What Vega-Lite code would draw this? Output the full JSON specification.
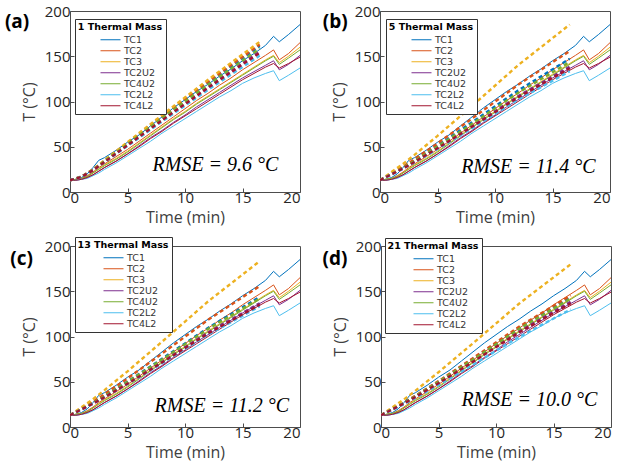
{
"$schema":"https://vega.github.io/schema/vega-lite/v6.json",
"background":"white",
"padding":{"left":4,"top":3,"right":0,"bottom":0},
"datasets":{
"measured":[
{"t":0,"TC1":13,"TC2":13,"TC3":13,"TC2U2":13,"TC4U2":13,"TC2L2":13,"TC4L2":13},
{"t":0.5,"TC1":14,"TC2":14,"TC3":14,"TC2U2":13,"TC4U2":14,"TC2L2":13,"TC4L2":13},
{"t":1,"TC1":16,"TC2":15,"TC3":15,"TC2U2":14,"TC4U2":15,"TC2L2":14,"TC4L2":14},
{"t":1.5,"TC1":20,"TC2":18,"TC3":17,"TC2U2":16,"TC4U2":17,"TC2L2":15,"TC4L2":16},
{"t":2,"TC1":27,"TC2":22,"TC3":21,"TC2U2":19,"TC4U2":21,"TC2L2":18,"TC4L2":19},
{"t":2.5,"TC1":35,"TC2":27,"TC3":26,"TC2U2":23,"TC4U2":25,"TC2L2":21,"TC4L2":23},
{"t":3,"TC1":38,"TC2":31,"TC3":30,"TC2U2":27,"TC4U2":29,"TC2L2":25,"TC4L2":27},
{"t":4,"TC1":46,"TC2":39,"TC3":37,"TC2U2":34,"TC4U2":36,"TC2L2":32,"TC4L2":34},
{"t":5,"TC1":55,"TC2":47,"TC3":45,"TC2U2":42,"TC4U2":44,"TC2L2":40,"TC4L2":42},
{"t":6,"TC1":63,"TC2":56,"TC3":54,"TC2U2":51,"TC4U2":53,"TC2L2":48,"TC4L2":50},
{"t":7,"TC1":73,"TC2":65,"TC3":63,"TC2U2":60,"TC4U2":62,"TC2L2":56,"TC4L2":59},
{"t":8,"TC1":83,"TC2":74,"TC3":72,"TC2U2":68,"TC4U2":71,"TC2L2":65,"TC4L2":67},
{"t":9,"TC1":93,"TC2":83,"TC3":81,"TC2U2":77,"TC4U2":80,"TC2L2":73,"TC4L2":76},
{"t":10,"TC1":102,"TC2":92,"TC3":89,"TC2U2":85,"TC4U2":88,"TC2L2":81,"TC4L2":84},
{"t":11,"TC1":111,"TC2":101,"TC3":98,"TC2U2":94,"TC4U2":97,"TC2L2":89,"TC4L2":92},
{"t":12,"TC1":119,"TC2":109,"TC3":106,"TC2U2":102,"TC4U2":105,"TC2L2":97,"TC4L2":100},
{"t":13,"TC1":128,"TC2":118,"TC3":114,"TC2U2":110,"TC4U2":113,"TC2L2":105,"TC4L2":108},
{"t":14,"TC1":136,"TC2":126,"TC3":122,"TC2U2":118,"TC4U2":121,"TC2L2":112,"TC4L2":116},
{"t":15,"TC1":145,"TC2":135,"TC3":130,"TC2U2":126,"TC4U2":129,"TC2L2":120,"TC4L2":124},
{"t":16,"TC1":153,"TC2":143,"TC3":138,"TC2U2":133,"TC4U2":137,"TC2L2":126,"TC4L2":131},
{"t":17,"TC1":162,"TC2":151,"TC3":146,"TC2U2":140,"TC4U2":145,"TC2L2":131,"TC4L2":138},
{"t":17.7,"TC1":172,"TC2":157,"TC3":151,"TC2U2":145,"TC4U2":150,"TC2L2":134,"TC4L2":142},
{"t":18.2,"TC1":166,"TC2":146,"TC3":143,"TC2U2":135,"TC4U2":141,"TC2L2":123,"TC4L2":137},
{"t":19,"TC1":174,"TC2":153,"TC3":150,"TC2U2":141,"TC4U2":148,"TC2L2":129,"TC4L2":142},
{"t":20,"TC1":185,"TC2":165,"TC3":160,"TC2U2":151,"TC4U2":157,"TC2L2":137,"TC4L2":149}
],
"model":[
{"p":"a","t":0,"TC1":13,"TC2":13,"TC3":13,"TC2U2":13,"TC4U2":13,"TC2L2":13,"TC4L2":13},
{"p":"a","t":1,"TC1":16.9,"TC2":16.9,"TC3":17,"TC2U2":16.7,"TC4U2":16.8,"TC2L2":16.6,"TC4L2":16.7},
{"p":"a","t":2,"TC1":24.6,"TC2":24.8,"TC3":25,"TC2U2":24.2,"TC4U2":24.4,"TC2L2":23.8,"TC4L2":24},
{"p":"a","t":3,"TC1":34.3,"TC2":34.6,"TC3":35,"TC2U2":33.5,"TC4U2":33.9,"TC2L2":32.8,"TC4L2":33.2},
{"p":"a","t":5,"TC1":53.7,"TC2":54.2,"TC3":55,"TC2U2":52.1,"TC4U2":52.9,"TC2L2":50.8,"TC4L2":51.6},
{"p":"a","t":8,"TC1":82.8,"TC2":83.6,"TC3":85,"TC2U2":80,"TC4U2":81.4,"TC2L2":77.8,"TC4L2":79.2},
{"p":"a","t":12,"TC1":120.7,"TC2":121.8,"TC3":124,"TC2U2":116.2,"TC4U2":118.5,"TC2L2":112.9,"TC4L2":115.1},
{"p":"a","t":16.5,"TC1":161.4,"TC2":163,"TC3":166,"TC2U2":155.3,"TC4U2":158.4,"TC2L2":150.7,"TC4L2":153.8},
{"p":"b","t":0,"TC1":13,"TC2":13,"TC3":13,"TC2U2":13,"TC4U2":13,"TC2L2":13,"TC4L2":13},
{"p":"b","t":1,"TC1":20,"TC2":20.5,"TC3":22,"TC2U2":19.6,"TC4U2":19.8,"TC2L2":19.3,"TC4L2":19.5},
{"p":"b","t":2,"TC1":27,"TC2":27.9,"TC3":31,"TC2U2":26.1,"TC4U2":26.7,"TC2L2":25.6,"TC4L2":26},
{"p":"b","t":3,"TC1":34.8,"TC2":36.2,"TC3":41,"TC2U2":33.4,"TC4U2":34.3,"TC2L2":32.6,"TC4L2":33.2},
{"p":"b","t":5,"TC1":51.2,"TC2":53.7,"TC3":62,"TC2U2":48.8,"TC4U2":50.2,"TC2L2":47.3,"TC4L2":48.3},
{"p":"b","t":8,"TC1":77,"TC2":81.1,"TC3":95,"TC2U2":72.9,"TC4U2":75.3,"TC2L2":70.4,"TC4L2":72},
{"p":"b","t":12,"TC1":112.1,"TC2":118.4,"TC3":140,"TC2U2":105.7,"TC4U2":109.5,"TC2L2":101.9,"TC4L2":104.4},
{"p":"b","t":16.5,"TC1":147.2,"TC2":155.8,"TC3":185,"TC2U2":138.6,"TC4U2":143.7,"TC2L2":133.4,"TC4L2":136.8},
{"p":"c","t":0,"TC1":13,"TC2":13,"TC3":13,"TC2U2":13,"TC4U2":13,"TC2L2":13,"TC4L2":13},
{"p":"c","t":1,"TC1":19.8,"TC2":20.5,"TC3":21.9,"TC2U2":19.5,"TC4U2":19.8,"TC2L2":19.3,"TC4L2":19.4},
{"p":"c","t":2,"TC1":26.7,"TC2":27.9,"TC3":30.8,"TC2U2":26,"TC4U2":26.5,"TC2L2":25.6,"TC4L2":25.8},
{"p":"c","t":3,"TC1":34.3,"TC2":36.2,"TC3":40.7,"TC2U2":33.2,"TC4U2":34,"TC2L2":32.6,"TC4L2":32.9},
{"p":"c","t":5,"TC1":50.2,"TC2":53.7,"TC3":61.5,"TC2U2":48.3,"TC4U2":49.8,"TC2L2":47.3,"TC4L2":47.8},
{"p":"c","t":8,"TC1":75.3,"TC2":81.1,"TC3":94.2,"TC2U2":72,"TC4U2":74.5,"TC2L2":70.4,"TC4L2":71.2},
{"p":"c","t":12,"TC1":109.5,"TC2":118.4,"TC3":138.7,"TC2U2":104.4,"TC4U2":108.3,"TC2L2":101.9,"TC4L2":103.2},
{"p":"c","t":16.5,"TC1":143.7,"TC2":155.8,"TC3":183.3,"TC2U2":136.8,"TC4U2":142,"TC2L2":133.4,"TC4L2":135.1},
{"p":"d","t":0,"TC1":13,"TC2":13,"TC3":13,"TC2U2":13,"TC4U2":13,"TC2L2":13,"TC4L2":13},
{"p":"d","t":1,"TC1":19.8,"TC2":19.9,"TC3":21.7,"TC2U2":19.6,"TC4U2":19.8,"TC2L2":19.1,"TC4L2":19.5},
{"p":"d","t":2,"TC1":26.7,"TC2":26.9,"TC3":30.5,"TC2U2":26.1,"TC4U2":26.5,"TC2L2":25.2,"TC4L2":26},
{"p":"d","t":3,"TC1":34.3,"TC2":34.6,"TC3":40.2,"TC2U2":33.4,"TC4U2":34,"TC2L2":32,"TC4L2":33.2},
{"p":"d","t":5,"TC1":50.2,"TC2":50.7,"TC3":60.5,"TC2U2":48.8,"TC4U2":49.8,"TC2L2":46.3,"TC4L2":48.3},
{"p":"d","t":8,"TC1":75.3,"TC2":76.1,"TC3":92.5,"TC2U2":72.9,"TC4U2":74.5,"TC2L2":68.8,"TC4L2":72},
{"p":"d","t":12,"TC1":109.5,"TC2":110.8,"TC3":136.2,"TC2U2":105.7,"TC4U2":108.3,"TC2L2":99.4,"TC4L2":104.4},
{"p":"d","t":16.5,"TC1":143.7,"TC2":145.4,"TC3":179.8,"TC2U2":138.6,"TC4U2":142,"TC2L2":130,"TC4L2":136.8}
],
"notes":[
{"p":"a","rmse":"RMSE = 9.6 °C","tag":"(a)"},
{"p":"b","rmse":"RMSE = 11.4 °C","tag":"(b)"},
{"p":"c","rmse":"RMSE = 11.2 °C","tag":"(c)"},
{"p":"d","rmse":"RMSE = 10.0 °C","tag":"(d)"}
]
},
"spacing":10,
"resolve":{"scale":{"color":"independent","x":"independent","y":"independent"},"legend":{"color":"independent"}},
"vconcat":[
{"hconcat":[
{"width":230,"height":181,"layer":[
{"data":{"name":"measured"},"transform":[{"fold":["TC1","TC2","TC3","TC2U2","TC4U2","TC2L2","TC4L2"],"as":["series","T"]}],"mark":{"type":"line","strokeWidth":1,"clip":true},"encoding":{"x":{"field":"t","type":"quantitative","scale":{"domain":[0,20],"nice":false},"axis":{"values":[0,5,10,15,20],"title":"Time (min)"}},"y":{"field":"T","type":"quantitative","scale":{"domain":[0,200]},"axis":{"values":[0,50,100,150,200],"title":"T (°C)"}},"color":{"field":"series","type":"nominal","scale":{"domain":["TC1","TC2","TC3","TC2U2","TC4U2","TC2L2","TC4L2"],"range":["#0072BD","#D95319","#EDB120","#7E2F8E","#77AC30","#4DBEEE","#A2142F"]},"legend":{"title":"1 Thermal Mass","orient":"none","legendX":5,"legendY":8}}}},
{"data":{"name":"model"},"transform":[{"filter":"datum.p==='a'"},{"fold":["TC1","TC2","TC3","TC2U2","TC4U2","TC2L2","TC4L2"],"as":["series","T"]}],"mark":{"type":"line","strokeWidth":2.4,"strokeDash":[4,3],"clip":true},"encoding":{"x":{"field":"t","type":"quantitative"},"y":{"field":"T","type":"quantitative"},"color":{"field":"series","type":"nominal"}}},
{"data":{"name":"notes"},"transform":[{"filter":"datum.p==='a'"}],"mark":{"type":"text","font":"Liberation Serif","fontStyle":"italic","fontSize":20,"color":"black"},"encoding":{"x":{"datum":12.65},"y":{"datum":30},"text":{"field":"rmse"}}},
{"data":{"name":"notes"},"transform":[{"filter":"datum.p==='a'"}],"mark":{"type":"text","font":"Open Sans","fontWeight":"bold","fontSize":19,"color":"black"},"encoding":{"x":{"datum":-4.6},"y":{"datum":188},"text":{"field":"tag"}}}
]},
{"width":230,"height":181,"layer":[
{"data":{"name":"measured"},"transform":[{"fold":["TC1","TC2","TC3","TC2U2","TC4U2","TC2L2","TC4L2"],"as":["series","T"]}],"mark":{"type":"line","strokeWidth":1,"clip":true},"encoding":{"x":{"field":"t","type":"quantitative","scale":{"domain":[0,20],"nice":false},"axis":{"values":[0,5,10,15,20],"title":"Time (min)"}},"y":{"field":"T","type":"quantitative","scale":{"domain":[0,200]},"axis":{"values":[0,50,100,150,200],"title":"T (°C)"}},"color":{"field":"series","type":"nominal","scale":{"domain":["TC1","TC2","TC3","TC2U2","TC4U2","TC2L2","TC4L2"],"range":["#0072BD","#D95319","#EDB120","#7E2F8E","#77AC30","#4DBEEE","#A2142F"]},"legend":{"title":"5 Thermal Mass","orient":"none","legendX":6,"legendY":8}}}},
{"data":{"name":"model"},"transform":[{"filter":"datum.p==='b'"},{"fold":["TC1","TC2","TC3","TC2U2","TC4U2","TC2L2","TC4L2"],"as":["series","T"]}],"mark":{"type":"line","strokeWidth":2.4,"strokeDash":[4,3],"clip":true},"encoding":{"x":{"field":"t","type":"quantitative"},"y":{"field":"T","type":"quantitative"},"color":{"field":"series","type":"nominal"}}},
{"data":{"name":"notes"},"transform":[{"filter":"datum.p==='b'"}],"mark":{"type":"text","font":"Liberation Serif","fontStyle":"italic","fontSize":20,"color":"black"},"encoding":{"x":{"datum":12.9},"y":{"datum":28},"text":{"field":"rmse"}}},
{"data":{"name":"notes"},"transform":[{"filter":"datum.p==='b'"}],"mark":{"type":"text","font":"Open Sans","fontWeight":"bold","fontSize":19,"color":"black"},"encoding":{"x":{"datum":-3.9},"y":{"datum":188},"text":{"field":"tag"}}}
]}
],"spacing":21,"resolve":{"scale":{"color":"independent","x":"independent","y":"independent"},"legend":{"color":"independent"}}},
{"hconcat":[
{"width":230,"height":181,"layer":[
{"data":{"name":"measured"},"transform":[{"fold":["TC1","TC2","TC3","TC2U2","TC4U2","TC2L2","TC4L2"],"as":["series","T"]}],"mark":{"type":"line","strokeWidth":1,"clip":true},"encoding":{"x":{"field":"t","type":"quantitative","scale":{"domain":[0,20],"nice":false},"axis":{"values":[0,5,10,15,20],"title":"Time (min)"}},"y":{"field":"T","type":"quantitative","scale":{"domain":[0,200]},"axis":{"values":[0,50,100,150,200],"title":"T (°C)"}},"color":{"field":"series","type":"nominal","scale":{"domain":["TC1","TC2","TC3","TC2U2","TC4U2","TC2L2","TC4L2"],"range":["#0072BD","#D95319","#EDB120","#7E2F8E","#77AC30","#4DBEEE","#A2142F"]},"legend":{"title":"13 Thermal Mass","orient":"none","legendX":5,"legendY":-9}}}},
{"data":{"name":"model"},"transform":[{"filter":"datum.p==='c'"},{"fold":["TC1","TC2","TC3","TC2U2","TC4U2","TC2L2","TC4L2"],"as":["series","T"]}],"mark":{"type":"line","strokeWidth":2.4,"strokeDash":[4,3],"clip":true},"encoding":{"x":{"field":"t","type":"quantitative"},"y":{"field":"T","type":"quantitative"},"color":{"field":"series","type":"nominal"}}},
{"data":{"name":"notes"},"transform":[{"filter":"datum.p==='c'"}],"mark":{"type":"text","font":"Liberation Serif","fontStyle":"italic","fontSize":20,"color":"black"},"encoding":{"x":{"datum":13.2},"y":{"datum":23},"text":{"field":"rmse"}}},
{"data":{"name":"notes"},"transform":[{"filter":"datum.p==='c'"}],"mark":{"type":"text","font":"Open Sans","fontWeight":"bold","fontSize":19,"color":"black"},"encoding":{"x":{"datum":-4.2},"y":{"datum":186},"text":{"field":"tag"}}}
]},
{"width":230,"height":181,"layer":[
{"data":{"name":"measured"},"transform":[{"fold":["TC1","TC2","TC3","TC2U2","TC4U2","TC2L2","TC4L2"],"as":["series","T"]}],"mark":{"type":"line","strokeWidth":1,"clip":true},"encoding":{"x":{"field":"t","type":"quantitative","scale":{"domain":[0,20],"nice":false},"axis":{"values":[0,5,10,15,20],"title":"Time (min)"}},"y":{"field":"T","type":"quantitative","scale":{"domain":[0,200]},"axis":{"values":[0,50,100,150,200],"title":"T (°C)"}},"color":{"field":"series","type":"nominal","scale":{"domain":["TC1","TC2","TC3","TC2U2","TC4U2","TC2L2","TC4L2"],"range":["#0072BD","#D95319","#EDB120","#7E2F8E","#77AC30","#4DBEEE","#A2142F"]},"legend":{"title":"21 Thermal Mass","orient":"none","legendX":4,"legendY":-8}}}},
{"data":{"name":"model"},"transform":[{"filter":"datum.p==='d'"},{"fold":["TC1","TC2","TC3","TC2U2","TC4U2","TC2L2","TC4L2"],"as":["series","T"]}],"mark":{"type":"line","strokeWidth":2.4,"strokeDash":[4,3],"clip":true},"encoding":{"x":{"field":"t","type":"quantitative"},"y":{"field":"T","type":"quantitative"},"color":{"field":"series","type":"nominal"}}},
{"data":{"name":"notes"},"transform":[{"filter":"datum.p==='d'"}],"mark":{"type":"text","font":"Liberation Serif","fontStyle":"italic","fontSize":20,"color":"black"},"encoding":{"x":{"datum":12.9},"y":{"datum":29.5},"text":{"field":"rmse"}}},
{"data":{"name":"notes"},"transform":[{"filter":"datum.p==='d'"}],"mark":{"type":"text","font":"Open Sans","fontWeight":"bold","fontSize":19,"color":"black"},"encoding":{"x":{"datum":-4.0},"y":{"datum":186},"text":{"field":"tag"}}}
]}
],"spacing":21,"resolve":{"scale":{"color":"independent","x":"independent","y":"independent"},"legend":{"color":"independent"}}}
],
"config":{
"view":{"stroke":"#4d4d4d","strokeWidth":1},
"axis":{"grid":false,"domain":false,"tickColor":"#4d4d4d","tickSize":-4,"labelFont":"Open Sans","labelFontSize":15,"labelColor":"#262626","titleFont":"Open Sans","titleFontSize":16,"titleColor":"#404040","titleFontWeight":"normal"},
"axisX":{"labelPadding":2,"titlePadding":4},
"axisY":{"labelPadding":4,"titlePadding":7},
"legend":{"titleFont":"DejaVu Sans","titleFontWeight":"bold","titleFontSize":9.5,"titleColor":"black","titleAnchor":"middle","titlePadding":3,"labelFont":"DejaVu Sans","labelFontSize":9.5,"labelColor":"#333","symbolType":"stroke","symbolSize":400,"symbolStrokeWidth":1,"symbolOffset":14,"clipHeight":10.5,"rowPadding":0,"padding":3,"strokeColor":"#333","fillColor":"white","labelOffset":3}
}
}
